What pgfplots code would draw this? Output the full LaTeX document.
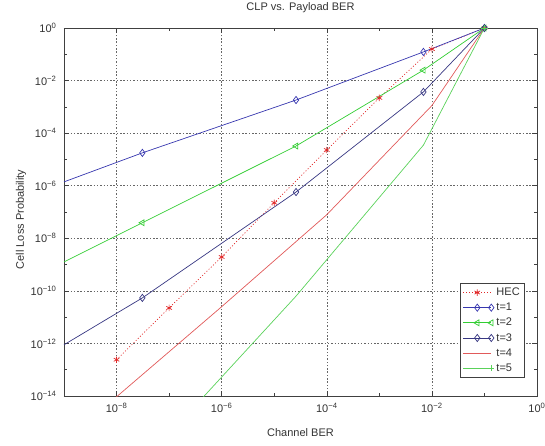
\documentclass[border=0pt]{standalone}
\usepackage{fontspec}
\setmainfont{Liberation Sans}
\usepackage{pgfplots}
\pgfplotsset{compat=1.18}
\definecolor{cblue}{RGB}{55,55,175}
\definecolor{cnavy}{RGB}{55,55,130}
\definecolor{cgreen}{RGB}{50,205,50}
\definecolor{cgreenl}{RGB}{90,210,90}
\definecolor{cred}{RGB}{225,40,40}
\definecolor{credl}{RGB}{225,90,90}
\begin{document}
\begin{tikzpicture}
\path[use as bounding box] (-64pt,-49pt) rectangle (481pt,396pt);
\begin{axis}[
  scale only axis, width=473pt, height=368pt,
  xmode=log, ymode=log,
  xmin=1e-9, xmax=1, ymin=1e-14, ymax=1,
  xtick={1e-8,1e-6,1e-4,1e-2,1},
  xticklabels={10\textsuperscript{−8},10\textsuperscript{−6},10\textsuperscript{−4},10\textsuperscript{−2},10\textsuperscript{0}},
  minor xtick={1e-9,1e-7,1e-5,1e-3,1e-1},
  ytick={1e-14,1e-12,1e-10,1e-8,1e-6,1e-4,1e-2,1},
  yticklabels={10\textsuperscript{−14},10\textsuperscript{−12},10\textsuperscript{−10},10\textsuperscript{−8},10\textsuperscript{−6},10\textsuperscript{−4},10\textsuperscript{−2},10\textsuperscript{0}},
  minor ytick={1e-13,1e-11,1e-9,1e-7,1e-5,1e-3,1e-1},
  grid=major,
  major grid style={black!60, dash pattern=on 1.5pt off 1.8pt, line width=0.5pt},
  tick align=inside,
  major tick length=5pt, minor tick length=3pt,
  tick style={black!75, line width=0.5pt},
  axis line style={black!75, line width=0.6pt},
  font=\fontsize{11}{12.5}\selectfont,
  xticklabel style={yshift=-4pt, text=black!80},
  yticklabel style={xshift=-4pt, text=black!80},
  title={CLP vs. Payload BER},
  title style={at={(axis description cs:0.5,1.03)}, anchor=base, text=black!80},
  xlabel={Channel BER},
  xlabel style={at={(axis description cs:0.5,-0.111)}, anchor=base, text=black!80},
  ylabel={Cell Loss Probability},
  ylabel style={at={(axis description cs:-0.085,0.48)}, anchor=base, text=black!80},
  legend cell align=left,
  legend style={at={(axis description cs:1,0)}, anchor=south east, xshift=-12pt, yshift=18pt,
    draw=black!75, line width=0.6pt, row sep=2pt, inner sep=3pt,
    font=\fontsize{11}{12.5}\selectfont, text=black!80},
  legend image code/.code={\draw[mark repeat=2,mark phase=2] plot coordinates {(0pt,0pt) (14pt,0pt) (28pt,0pt)};},
  every axis plot/.append style={line width=0.7pt},
]
% HEC
\addplot[color=cred, dash pattern=on 1pt off 2pt, mark=asterisk, mark size=3.2pt, mark options={solid}]
  coordinates {(1e-8,2.4e-13) (1e-7,2.24e-11) (1e-6,1.95e-9) (1e-5,2.24e-7) (1e-4,2.29e-5) (1e-3,2.19e-3) (1e-2,0.158) (1e-1,1)};
\addlegendentry{HEC}
% t=1
\addplot[color=cblue, mark=diamond, mark size=3.6pt, mark indices={2,3,4,5}]
  coordinates {(1e-9,1.4e-6) (3.1e-8,1.78e-5) (2.6e-5,1.82e-3) (6.9e-3,0.123) (1e-1,1)};
\addlegendentry{t=1}
% t=2
\addplot[color=cgreen, mark=triangle, mark size=3.4pt, mark options={rotate=90}, mark indices={2,3,4,5}]
  coordinates {(1e-9,1.26e-9) (3.1e-8,3.9e-8) (2.6e-5,3.24e-5) (6.9e-3,0.025) (1e-1,1)};
\addlegendentry{t=2}
% t=3
\addplot[color=cnavy, mark=diamond, mark size=3.6pt, mark indices={2,3,4,5}]
  coordinates {(1e-9,8.9e-13) (3.1e-8,5.4e-11) (2.6e-5,5.75e-7) (6.9e-3,3.7e-3) (1e-1,1)};
\addlegendentry{t=3}
% t=4
\addplot[color=credl, no marks]
  coordinates {(1e-9,1.8e-16) (1e-6,2.5e-11) (1e-4,7.9e-8) (1e-2,1.12e-3) (1e-1,1)};
\addlegendentry{t=4}
% t=5
\addplot[color=cgreenl, mark=+, mark size=3.2pt, mark indices={3,4,5}]
  coordinates {(1e-9,1.8e-20) (3.1e-8,2.75e-17) (2.6e-5,6.3e-11) (6.9e-3,3.5e-5) (1e-1,1)};
\addlegendentry{t=5}
\end{axis}
\end{tikzpicture}
\end{document}
